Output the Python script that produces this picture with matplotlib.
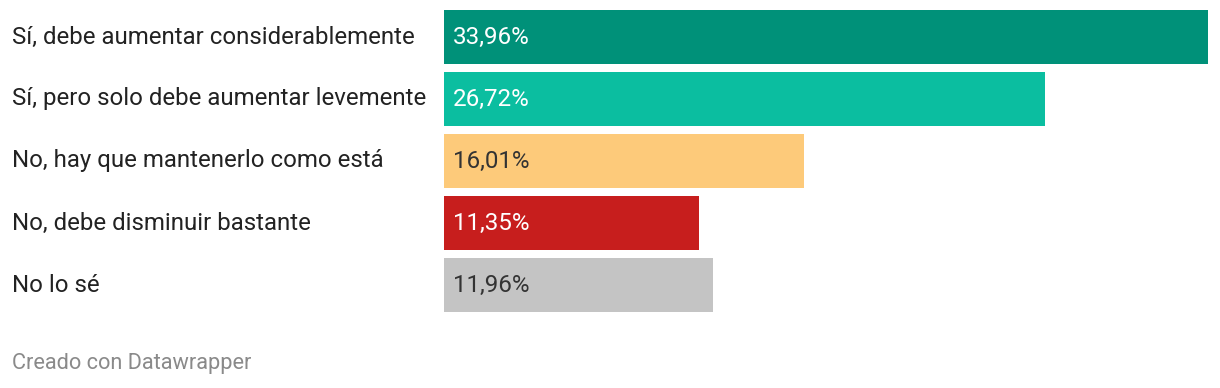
import matplotlib.pyplot as plt

plt.rcParams["font.family"] = ["Roboto", "DejaVu Sans"]

categories = [
    "Sí, debe aumentar considerablemente",
    "Sí, pero solo debe aumentar levemente",
    "No, hay que mantenerlo como está",
    "No, debe disminuir bastante",
    "No lo sé",
]
values = [33.96, 26.72, 16.01, 11.35, 11.96]
value_labels = ["33,96%", "26,72%", "16,01%", "11,35%", "11,96%"]
colors = ["#009179", "#0bbea0", "#fdca7a", "#c71e1d", "#c4c4c4"]
text_colors = ["white", "white", "#333333", "white", "#333333"]

W, H = 1220, 388
fig = plt.figure(figsize=(W / 100, H / 100), dpi=100)
ax = fig.add_axes([444 / W, 1 - 312 / H, (1208 - 444) / W, 302 / H])

pos = list(range(len(values)))
bh = 54 / 62
ax.barh(pos, values, height=bh, color=colors)
ax.set_xlim(0, max(values))
ax.set_ylim(len(values) - 1 + bh / 2, -bh / 2)
ax.axis("off")

for i, (lab, vl, tc) in enumerate(zip(categories, value_labels, text_colors)):
    ax.annotate(vl, (0, i), xytext=(9, 0), textcoords="offset pixels",
                va="center", ha="left", color=tc, fontsize=17.4)
    ax.annotate(lab, (0, i), xytext=(-432, 0), textcoords="offset pixels",
                va="center", ha="left", color="#222222", fontsize=17.3,
                annotation_clip=False)

fig.text(12 / W, 1 - 364 / H, "Creado con Datawrapper", color="#8a8a8a",
         fontsize=15.7, va="center", ha="left")

fig.savefig("out.png", dpi=100)
